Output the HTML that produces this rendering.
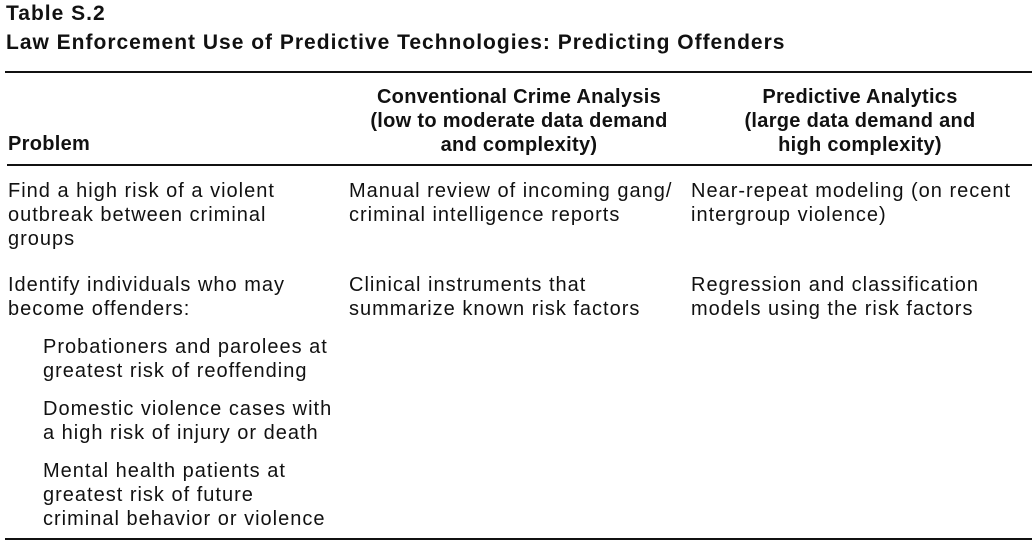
<!DOCTYPE html>
<html><head><meta charset="utf-8"><style>
html,body{margin:0;padding:0;background:#fff;}
body{width:1035px;height:547px;position:relative;overflow:hidden;font-family:"Liberation Sans",sans-serif;color:#111;}
.t{position:absolute;white-space:nowrap;font-size:20px;line-height:24px;letter-spacing:1px;}
.b{font-weight:bold;letter-spacing:0.3px;}
.c2{left:349px;width:340px;text-align:center;}
.c3{left:690px;width:340px;text-align:center;}
.rule{position:absolute;background:#111;}
</style></head><body>
<div class="t b" style="left:6px;top:2px;font-size:21px;letter-spacing:1px;">Table S.2</div>
<div class="t b" style="left:6px;top:31px;font-size:21px;letter-spacing:1px;">Law Enforcement Use of Predictive Technologies: Predicting Offenders</div>
<div class="rule" style="left:5px;top:71px;width:1027px;height:2px;"></div>

<div class="t b" style="left:8px;top:132px;">Problem</div>
<div class="t b c2" style="top:85px;">Conventional Crime Analysis<br>(low to moderate data demand<br>and complexity)</div>
<div class="t b c3" style="top:85px;">Predictive Analytics<br>(large data demand and<br>high complexity)</div>
<div class="rule" style="left:7px;top:164px;width:1025px;height:2px;"></div>

<div class="t" style="left:8px;top:179px;">Find a high risk of a violent<br>outbreak between criminal<br>groups</div>
<div class="t" style="left:349px;top:179px;">Manual review of incoming gang/<br>criminal intelligence reports</div>
<div class="t" style="left:691px;top:179px;">Near-repeat modeling (on recent<br>intergroup violence)</div>

<div class="t" style="left:8px;top:273px;">Identify individuals who may<br>become offenders:</div>
<div class="t" style="left:349px;top:273px;">Clinical instruments that<br>summarize known risk factors</div>
<div class="t" style="left:691px;top:273px;">Regression and classification<br>models using the risk factors</div>

<div class="t" style="left:43px;top:335px;">Probationers and parolees at<br>greatest risk of reoffending</div>
<div class="t" style="left:43px;top:397px;">Domestic violence cases with<br>a high risk of injury or death</div>
<div class="t" style="left:43px;top:459px;">Mental health patients at<br>greatest risk of future<br>criminal behavior or violence</div>

<div class="rule" style="left:5px;top:538px;width:1027px;height:2px;"></div>
</body></html>
